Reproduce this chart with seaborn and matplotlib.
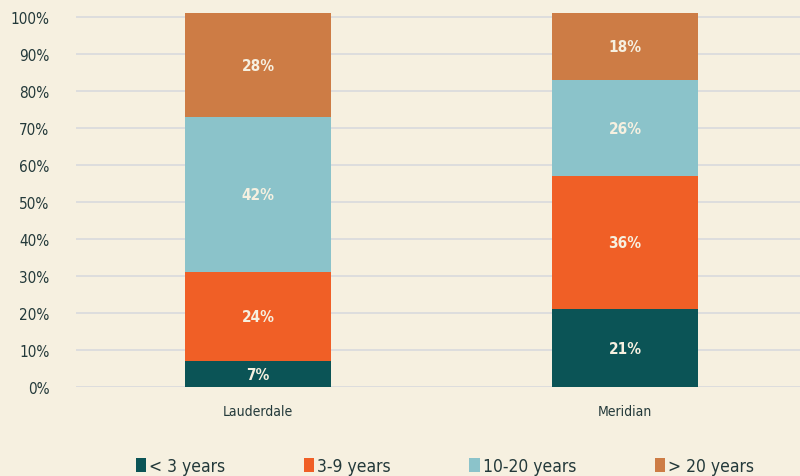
import numpy as np
import pandas as pd
import matplotlib.pyplot as plt
import seaborn as sb
from matplotlib import font_manager
from matplotlib.patches import Patch

places = ['Lauderdale', 'Meridian']
groups = ['< 3 years', '3-9 years', '10-20 years', '> 20 years']
lt3 = [7, 21]
y3_9 = [24, 36]
y10_20 = [42, 26]
gt20 = [28, 18]
colors = ['#0b5456', '#f05f26', '#8bc3ca', '#cd7c45']

bg = '#f6f0e0'
txt = '#23393a'

sb.set_theme(style='white')
names = {f.name for f in font_manager.fontManager.ttflist}
fam = 'Liberation Sans Narrow' if 'Liberation Sans Narrow' in names else 'DejaVu Sans'
plt.rcParams['font.family'] = [fam, 'DejaVu Sans']
plt.rcParams['font.stretch'] = 'condensed'

df = pd.DataFrame({'place': places, groups[0]: lt3, groups[1]: y3_9,
                   groups[2]: y10_20, groups[3]: gt20})
cum = df[groups].cumsum(axis=1)

fig = plt.figure(figsize=(8, 4.77), dpi=100, facecolor=bg)
ax = fig.add_axes([0.095, 0.1866, 0.905, 0.791])
ax.set_facecolor(bg)

# draw cumulative totals from the top layer down so each segment shows
for i in range(len(groups) - 1, -1, -1):
    sb.barplot(x=df['place'], y=cum[groups[i]], color=colors[i], width=0.4,
               ax=ax, saturation=1, zorder=2, linewidth=0, edgecolor='none')

for j, p in enumerate(places):
    for i, g in enumerate(groups):
        top = cum.loc[j, g]
        val = df.loc[j, g]
        ax.text(j, top - val / 2, f'{val}%', ha='center', va='center',
                color='#f6f0e0', fontsize=11, fontweight='bold', zorder=3)

ax.set_ylim(0, 102)
ax.set_xlim(-0.496, 1.477)
ax.set_yticks(range(0, 101, 10))
ax.set_yticklabels([f'{v}%' for v in range(0, 101, 10)], color=txt, fontsize=11)
ax.yaxis.grid(True, color='#d8dadd', linewidth=1.2, zorder=0)
ax.set_axisbelow(True)
ax.tick_params(axis='y', length=0, pad=19)
ax.tick_params(axis='x', length=0, pad=12, labelsize=10, labelcolor=txt)
ax.set_xlabel('')
ax.set_ylabel('')
for s in ax.spines.values():
    s.set_visible(False)

handles = [Patch(facecolor=c, edgecolor='none') for c in colors]
fig.legend(handles, groups, loc='lower center', bbox_to_anchor=(0.556, -0.031),
           ncol=4, frameon=False, fontsize=12.5, handlelength=0.6, handleheight=0.9,
           handletextpad=0.15, columnspacing=4.55, labelcolor=txt)

fig.savefig('out.png', dpi=100, facecolor=bg)
